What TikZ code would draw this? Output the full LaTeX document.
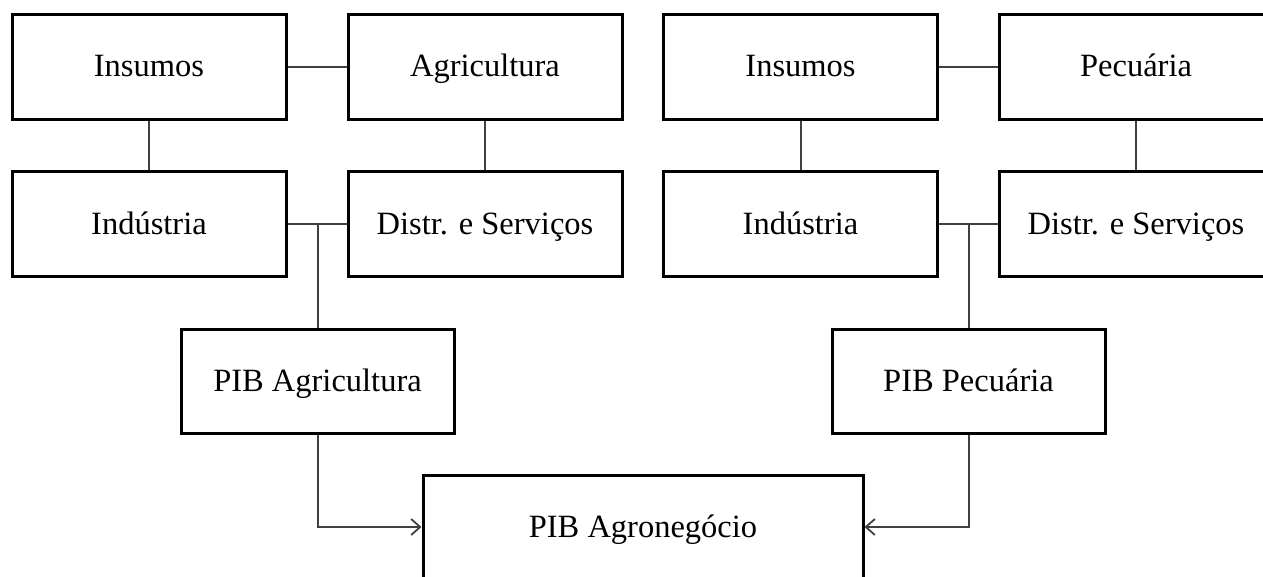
\documentclass[tikz,border=0pt]{standalone}
\usepackage{fontspec}
\setmainfont{Liberation Serif}
\usetikzlibrary{arrows.meta}
\definecolor{linkgray}{HTML}{404040}
\begin{document}
\begin{tikzpicture}[x=1pt,y=-1pt,
  box/.style={draw=black,line width=3pt,minimum width=274pt,minimum height=105pt,inner sep=0pt,
    text height=23pt,text depth=3pt,
    font=\fontsize{32.5}{38}\selectfont},
  link/.style={draw=linkgray,line width=2pt},
  arr/.style={link,-{Straight Barb[length=9pt,width=16pt,line width=1.8pt]}}]
\useasboundingbox (0,0) rectangle (1263,576);
\clip (0,0) rectangle (1263,576);
\node[box] (ins1) at (149,66.5) {Insumos};
\node[box] (agr) at (485,66.5) {Agricultura};
\node[box] (ind1) at (149,224) {Indústria};
\node[box] (dis1) at (485,224) {Distr. e Serviços};
\node[box] (ins2) at (800.5,66.5) {Insumos};
\node[box] (pec) at (1136,66.5) {Pecuária};
\node[box] (ind2) at (800.5,224) {Indústria};
\node[box] (dis2) at (1136,224) {Distr. e Serviços};
\node[box,minimum width=273pt,minimum height=104pt] (pibA) at (317.5,381) {PIB Agricultura};
\node[box,minimum width=273pt,minimum height=104pt] (pibP) at (968.5,381) {PIB Pecuária};
\node[box,minimum width=440pt,minimum height=104pt] (agro) at (643,527) {PIB Agronegócio};
\coordinate (j1) at (pibA.north |- ind1.east);
\coordinate (j2) at (pibP.north |- ind2.east);
\draw[link] (ins1.east) -- (agr.west);
\draw[link] (ins1.south) -- (ind1.north);
\draw[link] (agr.south) -- (dis1.north);
\draw[link] (ind1.east) -- (dis1.west);
\draw[link] (j1) -- (pibA.north);
\draw[link] (ins2.east) -- (pec.west);
\draw[link] (ins2.south) -- (ind2.north);
\draw[link] (pec.south) -- (dis2.north);
\draw[link] (ind2.east) -- (dis2.west);
\draw[link] (j2) -- (pibP.north);
\draw[arr] (pibA.south) |- (agro.west);
\draw[arr] (pibP.south) |- (agro.east);
\end{tikzpicture}
\end{document}
